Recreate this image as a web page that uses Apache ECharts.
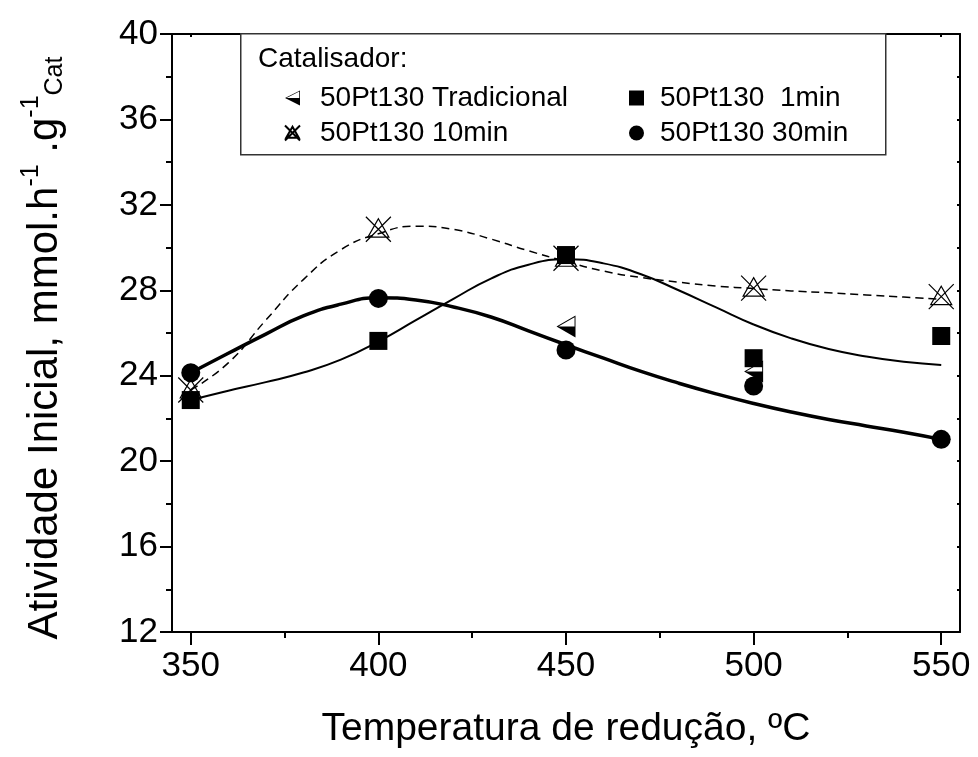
<!DOCTYPE html>
<html><head><meta charset="utf-8">
<script src="https://cdn.jsdelivr.net/npm/echarts@6/dist/echarts.min.js"></script>
<style>html,body{margin:0;padding:0;background:#fff}#c{width:978px;height:757px}</style>
</head><body><div id="c"></div>
<script>
// ---- data ----
const temps = [350, 400, 450, 500, 550];
const xTickLabels = [350, 400, 450, 500, 550];
const xMinorTicks = [375, 425, 475, 525];
const tradicional = [null, null, 26.3, 24.2, null];
const min1 = [22.86, 25.63, 29.65, 24.82, 25.86];
const min10 = [23.33, 30.86, 29.5, 28.1, 27.7];
const min30 = [24.14, 27.62, 25.2, 23.52, 21.02];
const fitX = [350, 360, 370, 380, 390, 400, 410, 420, 430, 440, 450, 460, 470, 480, 490, 500, 510, 520, 530, 540, 550];
const fit1minY = [22.86, 23.3, 23.7, 24.15, 24.75, 25.6, 26.6, 27.6, 28.55, 29.2, 29.45, 29.26, 28.75, 28.0, 27.2, 26.4, 25.75, 25.25, 24.9, 24.65, 24.5];
const fit10minY = [23.33, 24.6, 26.6, 28.5, 29.9, 30.65, 31.0, 30.85, 30.4, 29.85, 29.35, 28.9, 28.6, 28.38, 28.2, 28.08, 27.97, 27.88, 27.78, 27.68, 27.58];
const fit30minY = [24.14, 25.05, 25.95, 26.8, 27.35, 27.65, 27.55, 27.22, 26.75, 26.1, 25.45, 24.82, 24.2, 23.65, 23.15, 22.7, 22.3, 21.95, 21.65, 21.35, 21.02];
const seriesNames = ['50Pt130 Tradicional', '50Pt130  1min', '50Pt130 10min', '50Pt130 30min'];

const pairs = (xs, ys) => xs.map((x, i) => [x, ys[i]]);
const TRI = 'path://M0 50 L100 0 L100 100 Z M10 50 L95 93 L95 7 Z M0 50 L100 50 L100 100 Z';
const XTRI = 'path://M50 8 L92 82 L8 82 Z M0 0 L100 100 M100 0 L0 100';
const font = 'Liberation Sans, Arial, sans-serif';

const chart = echarts.init(document.getElementById('c'), null, {renderer: 'canvas'});
chart.setOption({
  animation: false,
  backgroundColor: '#fff',
  grid: {left: 172, right: 18, top: 34, bottom: 125, containLabel: false},
  xAxis: [
    {type: 'value', min: 345, max: 555, position: 'bottom',
     name: 'Temperatura de redução, ºC', nameLocation: 'middle', nameGap: 78,
     nameTextStyle: {fontFamily: font, fontSize: 39, color: '#000'},
     axisLine: {show: true, lineStyle: {color: '#000', width: 2}},
     axisTick: {show: true, inside: false, length: 13, lineStyle: {color: '#000', width: 2}, customValues: xTickLabels},
     axisLabel: {show: true, customValues: xTickLabels, fontFamily: font, fontSize: 35, color: '#000', margin: 17},
     splitLine: {show: false}},
    {type: 'value', min: 345, max: 555, position: 'bottom', gridIndex: 0,
     axisLine: {show: false},
     axisTick: {show: true, inside: false, length: 6, lineStyle: {color: '#000', width: 2}, customValues: xMinorTicks},
     axisLabel: {show: false}, splitLine: {show: false}},
    {type: 'value', min: 345, max: 555, position: 'top',
     axisLine: {show: true, lineStyle: {color: '#000', width: 2}},
     axisTick: {show: true, inside: true, length: 3, lineStyle: {color: '#000', width: 2}, customValues: xTickLabels},
     axisLabel: {show: false}, splitLine: {show: false}}
  ],
  yAxis: [
    {type: 'value', min: 12, max: 40, interval: 4, position: 'left',
     name: 'Atividade Inicial, mmol.h{sup|-1} .g{sup|-1}{sub|Cat}', nameLocation: 'middle', nameGap: 100,
     nameTextStyle: {fontFamily: font, fontSize: 42, color: '#000', padding: [0, 30, 0, 0],
       rich: {sup: {fontFamily: font, fontSize: 25, verticalAlign: 'top', padding: [0, 0, 28, 0], color: '#000'},
              sub: {fontFamily: font, fontSize: 25, padding: [20, 0, 0, 0], color: '#000'}}},
     axisLine: {show: true, lineStyle: {color: '#000', width: 2}},
     axisTick: {show: true, inside: false, length: 12, lineStyle: {color: '#000', width: 2}},
     minorTick: {show: true, splitNumber: 2, length: 6, lineStyle: {color: '#000', width: 2}},
     axisLabel: {fontFamily: font, fontSize: 35, color: '#000', margin: 14},
     splitLine: {show: false}, minorSplitLine: {show: false}},
    {type: 'value', min: 12, max: 40, interval: 2, position: 'right',
     axisLine: {show: true, lineStyle: {color: '#000', width: 2}},
     axisTick: {show: true, inside: true, length: 3, lineStyle: {color: '#000', width: 2}},
     axisLabel: {show: false}, splitLine: {show: false}}
  ],
  legend: [
    {data: [{name: seriesNames[0]}, {name: seriesNames[2]}], orient: 'vertical', left: 279, top: 79, itemGap: 7,
     itemWidth: 15, itemHeight: 15, textStyle: {fontFamily: font, fontSize: 28, color: '#000', padding: [0, 0, 0, 15]}, selectedMode: false},
    {data: [{name: seriesNames[1]}, {name: seriesNames[3]}], orient: 'vertical', left: 624, top: 79, itemGap: 7,
     itemWidth: 15, itemHeight: 15, textStyle: {fontFamily: font, fontSize: 28, color: '#000', padding: [0, 0, 0, 11]}, selectedMode: false}
  ],
  graphic: [
    {type: 'rect', left: 240, top: 33, shape: {width: 645, height: 121}, style: {fill: '#fff', stroke: '#333', lineWidth: 1.5}, z: 1},
    {type: 'text', left: 258, top: 45, style: {text: 'Catalisador:', font: '28px ' + font, fill: '#000'}, z: 2}
  ],
  series: [
    {type: 'line', name: 'fit10', data: pairs(fitX, fit10minY), smooth: 0.5, showSymbol: false, symbol: 'none',
     lineStyle: {color: '#000', width: 1.5, type: [8, 5]}, z: 2, silent: true},
    {type: 'line', name: 'fit1', data: pairs(fitX, fit1minY), smooth: 0.5, showSymbol: false, symbol: 'none',
     lineStyle: {color: '#000', width: 2}, z: 2, silent: true},
    {type: 'line', name: 'fit30', data: pairs(fitX, fit30minY), smooth: 0.5, showSymbol: false, symbol: 'none',
     lineStyle: {color: '#000', width: 3.5}, z: 2, silent: true},
    {type: 'scatter', name: seriesNames[0], data: pairs(temps, tradicional), symbol: TRI, symbolSize: [19, 22],
     itemStyle: {color: '#000', opacity: 1}, z: 3},
    {type: 'scatter', name: seriesNames[2], data: pairs(temps, min10), symbol: XTRI, symbolSize: 25,
     itemStyle: {color: 'rgba(0,0,0,0)', borderColor: '#000', borderWidth: 1.2, opacity: 1}, z: 4},
    {type: 'scatter', name: seriesNames[1], data: pairs(temps, min1), symbol: 'rect', symbolSize: 18,
     itemStyle: {color: '#000', opacity: 1}, z: 5},
    {type: 'scatter', name: seriesNames[3], data: pairs(temps, min30), symbol: 'circle', symbolSize: 19,
     itemStyle: {color: '#000', opacity: 1}, z: 6}
  ]
});
</script></body></html>
